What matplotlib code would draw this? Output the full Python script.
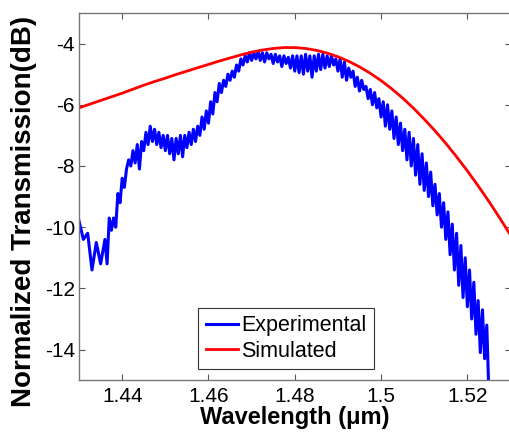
import matplotlib
matplotlib.use("Agg")
import matplotlib.pyplot as plt

plt.rcParams['font.family'] = ['Liberation Sans', 'DejaVu Sans']
plt.rcParams['axes.unicode_minus'] = False

# --- data ---
exp_wl = [1.4300, 1.4310, 1.4320, 1.4330, 1.4340, 1.4350, 1.4360, 1.4365, 1.4370, 1.4375,
          1.4380, 1.4385, 1.4390, 1.4395, 1.4400, 1.4405, 1.4410, 1.4415, 1.4420, 1.4425,
          1.4430, 1.4435, 1.4440, 1.4445, 1.4450, 1.4455, 1.4460, 1.4465, 1.4470, 1.4475,
          1.4480, 1.4485, 1.4490, 1.4495, 1.4500, 1.4505, 1.4510, 1.4515, 1.4520, 1.4525,
          1.4530, 1.4535, 1.4540, 1.4545, 1.4550, 1.4555, 1.4560, 1.4565, 1.4570, 1.4575,
          1.4580, 1.4585, 1.4590, 1.4595, 1.4600, 1.4605, 1.4610, 1.4615, 1.4620, 1.4625,
          1.4630, 1.4635, 1.4640, 1.4645, 1.4650, 1.4655, 1.4660, 1.4665, 1.4670, 1.4675,
          1.4680, 1.4685, 1.4690, 1.4695, 1.4700, 1.4705, 1.4710, 1.4715, 1.4720, 1.4725,
          1.4730, 1.4735, 1.4740, 1.4745, 1.4750, 1.4755, 1.4760, 1.4765, 1.4770, 1.4775,
          1.4780, 1.4785, 1.4790, 1.4795, 1.4800, 1.4805, 1.4810, 1.4815, 1.4820, 1.4825,
          1.4830, 1.4835, 1.4840, 1.4845, 1.4850, 1.4855, 1.4860, 1.4865, 1.4870, 1.4875,
          1.4880, 1.4885, 1.4890, 1.4895, 1.4900, 1.4905, 1.4910, 1.4915, 1.4920, 1.4925,
          1.4930, 1.4935, 1.4940, 1.4945, 1.4950, 1.4955, 1.4960, 1.4965, 1.4970, 1.4975,
          1.4980, 1.4985, 1.4990, 1.4995, 1.5000, 1.5005, 1.5010, 1.5015, 1.5020, 1.5025,
          1.5030, 1.5035, 1.5040, 1.5045, 1.5050, 1.5055, 1.5060, 1.5065, 1.5070, 1.5075,
          1.5080, 1.5085, 1.5090, 1.5095, 1.5100, 1.5105, 1.5110, 1.5115, 1.5120, 1.5125,
          1.5130, 1.5135, 1.5140, 1.5145, 1.5150, 1.5155, 1.5160, 1.5165, 1.5170, 1.5175,
          1.5180, 1.5185, 1.5190, 1.5195, 1.5200, 1.5205, 1.5210, 1.5215, 1.5220, 1.5225,
          1.5230, 1.5235, 1.5240, 1.5245, 1.5250]
exp_db = [-9.8, -10.4, -10.2, -11.4, -10.5, -11.2, -10.4, -11.2, -9.7, -10.1,
          -9.7, -10.0, -8.9, -9.2, -8.4, -8.7, -8.1, -7.8, -8.0, -7.5,
          -7.9, -7.3, -8.1, -7.2, -7.5, -6.9, -7.3, -6.7, -7.2, -6.8,
          -7.3, -6.9, -7.4, -7.0, -7.5, -7.0, -7.6, -7.1, -7.8, -7.1,
          -7.6, -7.0, -7.7, -7.0, -7.4, -6.9, -7.3, -6.8, -7.2, -6.7,
          -7.0, -6.4, -6.8, -6.2, -6.6, -5.9, -6.3, -5.6, -5.9, -5.3,
          -5.6, -5.2, -5.4, -5.0, -5.2, -4.9, -5.1, -4.7, -4.9, -4.5,
          -4.7, -4.4, -4.6, -4.3, -4.55, -4.3, -4.5, -4.25, -4.55, -4.3,
          -4.6, -4.3, -4.5, -4.35, -4.65, -4.35, -4.6, -4.4, -4.75, -4.4,
          -4.65, -4.45, -4.8, -4.4, -4.9, -4.4, -4.95, -4.4, -5.0, -4.35,
          -4.9, -4.4, -5.1, -4.4, -4.9, -4.35, -4.85, -4.35, -4.8, -4.4,
          -4.75, -4.4, -4.7, -4.5, -4.9, -4.5, -5.1, -4.6, -5.2, -4.8,
          -5.1, -4.9, -5.4, -5.1, -5.55, -5.2, -5.5, -5.4, -5.8, -5.5,
          -6.0, -5.6, -6.1, -5.8, -6.4, -5.9, -6.7, -6.0, -6.8, -6.2,
          -7.1, -6.4, -7.3, -6.6, -7.5, -6.8, -7.8, -6.9, -8.0, -7.1,
          -8.3, -7.3, -8.6, -7.6, -8.8, -7.9, -9.0, -8.2, -9.3, -8.6,
          -9.6, -8.9, -10.0, -9.2, -10.4, -9.5, -10.9, -9.9, -11.4, -10.2,
          -11.9, -10.6, -12.3, -11.0, -12.6, -11.4, -13.0, -11.8, -13.5, -12.4,
          -14.1, -12.7, -14.3, -13.2, -15.5]

sim_wl = [1.4300, 1.4325, 1.4350, 1.4375, 1.4400, 1.4425, 1.4450, 1.4475, 1.4500, 1.4525,
          1.4550, 1.4575, 1.4600, 1.4625, 1.4650, 1.4675, 1.4700, 1.4725, 1.4750, 1.4775,
          1.4800, 1.4825, 1.4850, 1.4875, 1.4900, 1.4925, 1.4950, 1.4975, 1.5000, 1.5025,
          1.5050, 1.5075, 1.5100, 1.5125, 1.5150, 1.5175, 1.5200, 1.5225, 1.5250, 1.5275,
          1.5300]
sim_db = [-6.10, -5.98, -5.86, -5.74, -5.62, -5.49, -5.36, -5.24, -5.13, -5.01,
          -4.90, -4.79, -4.68, -4.57, -4.47, -4.37, -4.28, -4.21, -4.16, -4.13,
          -4.13, -4.16, -4.22, -4.31, -4.43, -4.58, -4.76, -4.97, -5.21, -5.48,
          -5.78, -6.11, -6.47, -6.85, -7.26, -7.70, -8.16, -8.65, -9.16, -9.70,
          -10.26]

xticks = [1.44, 1.46, 1.48, 1.50, 1.52]
xticklabels = ["1.44", "1.46", "1.48", "1.5", "1.52"]
yticks = [-14, -12, -10, -8, -6, -4]

fig = plt.figure(figsize=(5.10, 4.33), dpi=100)
ax = fig.add_axes([0.155, 0.122, 0.846, 0.848])

ax.plot(exp_wl, exp_db, color="#0000ff", lw=2.2, label="Experimental")
ax.plot(sim_wl, sim_db, color="#ff0000", lw=2.0, label="Simulated")

ax.set_xlim(1.43, 1.53)
ax.set_ylim(-15, -3)
ax.set_xticks(xticks)
ax.set_xticklabels(xticklabels)
ax.set_yticks(yticks)

ax.tick_params(direction="in", length=4, width=0.8, color="#555555",
               top=True, right=True, labelsize=15)
ax.tick_params(axis="x", pad=5)
ax.tick_params(axis="y", pad=3)
for sp in ax.spines.values():
    sp.set_color("#777777")
    sp.set_linewidth(1.0)

ax.set_xlabel("Wavelength (μm)", fontsize=17, fontweight="bold", labelpad=0)
ax.set_ylabel("Normalized Transmission(dB)", fontsize=20, fontweight="bold")
ax.yaxis.set_label_coords(-0.098, 0.46)

leg = ax.legend(loc="lower left", bbox_to_anchor=(0.276, 0.03), fontsize=15.5,
                handlelength=1.5, handletextpad=0.15, borderpad=0.35,
                labelspacing=0.2, borderaxespad=0, fancybox=False,
                framealpha=1)
leg.get_frame().set_edgecolor("#333333")
leg.get_frame().set_linewidth(0.8)

fig.savefig("out.png", dpi=100)
